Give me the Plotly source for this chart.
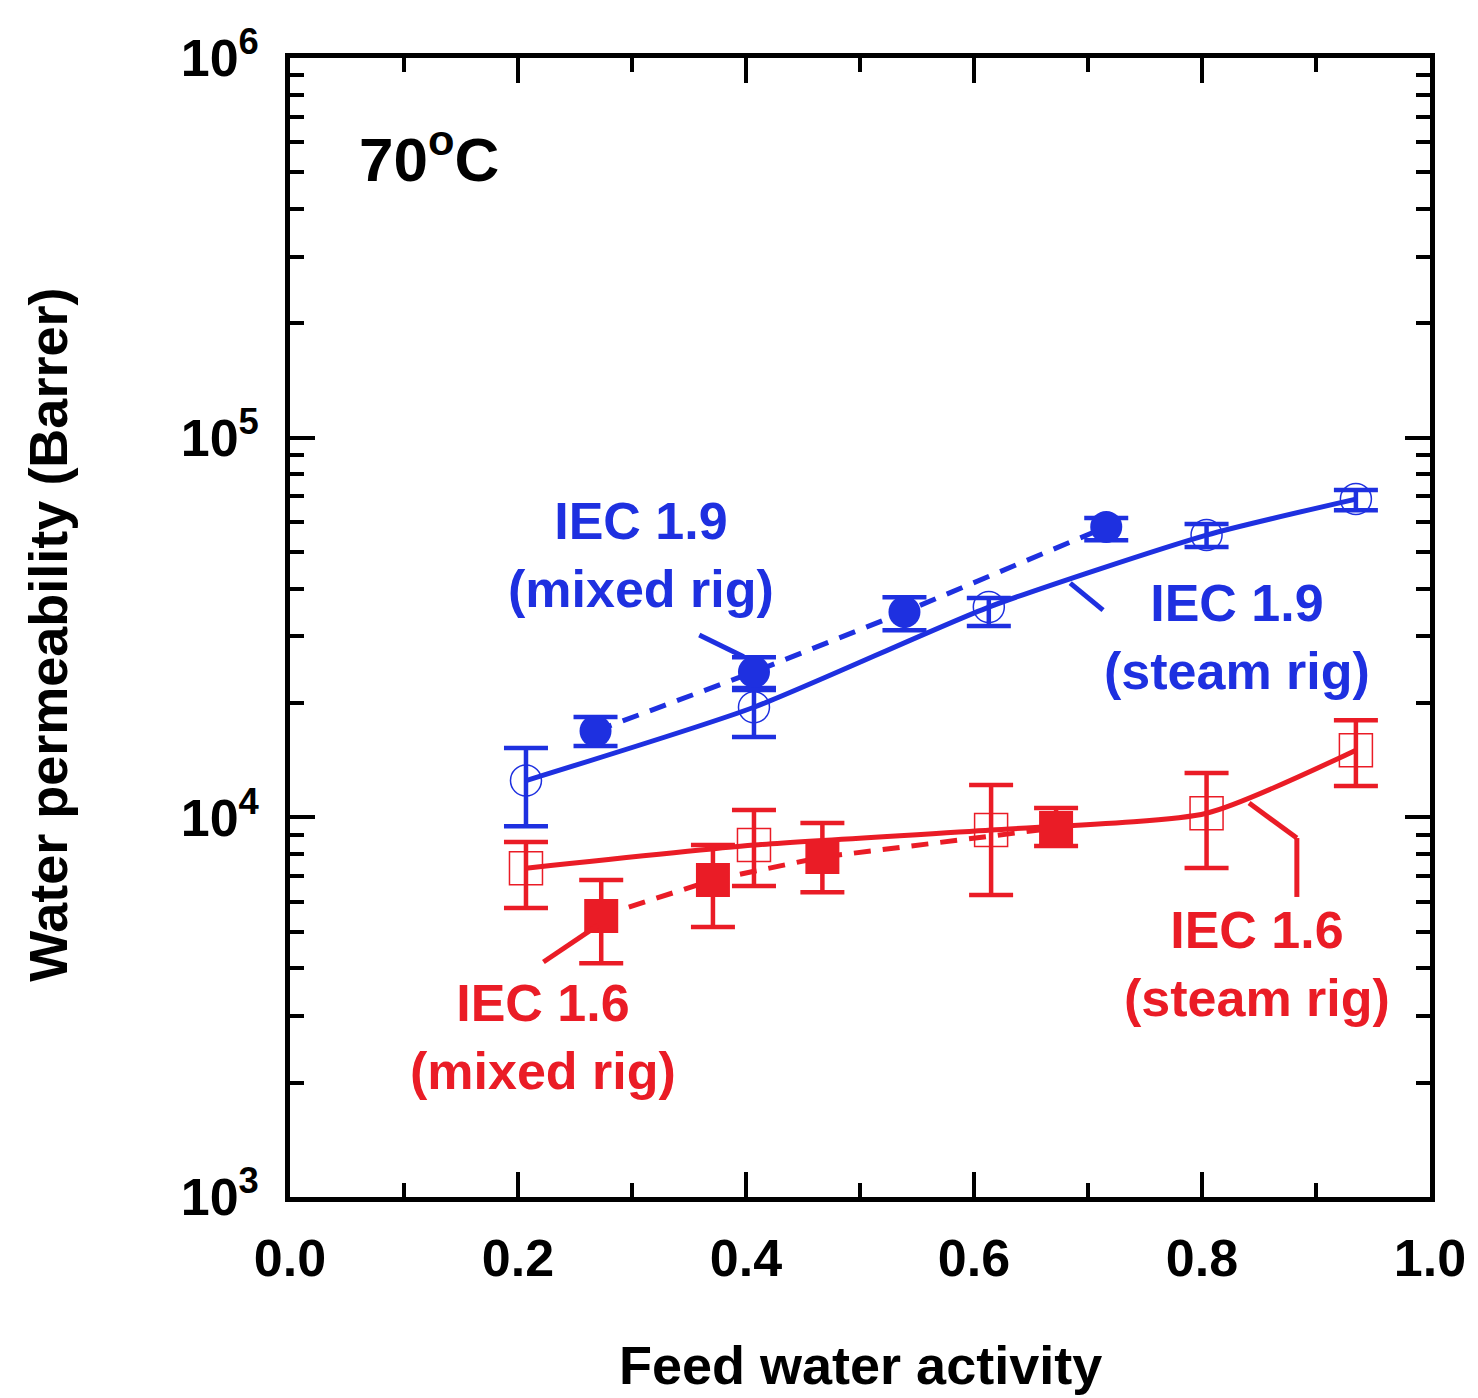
import plotly.graph_objects as go

# Water permeability vs feed water activity at 70 C
# IEC 1.9 membrane, steam rig (open circles, solid fit line)
a_19_steam = [0.207, 0.407, 0.613, 0.804, 0.935]
p_19_steam = [12500, 19500, 35800, 55400, 68900]
p_19_steam_hi = [15220, 21630, 37800, 59220, 72800]
p_19_steam_lo = [9480, 16270, 31900, 51500, 64400]

# IEC 1.9 membrane, mixed rig (filled circles, dashed line)
a_19_mixed = [0.268, 0.407, 0.539, 0.716]
p_19_mixed = [16870, 24150, 34750, 58200]
p_19_mixed_hi = [18370, 26420, 38000, 61400]
p_19_mixed_lo = [15420, 21900, 31100, 53700]

# IEC 1.6 membrane, steam rig (open squares, solid fit line)
a_16_steam = [0.207, 0.407, 0.615, 0.804, 0.935]
p_16_steam = [7345, 8450, 9260, 10250, 15030]
p_16_steam_hi = [8610, 10450, 12160, 13080, 18030]
p_16_steam_lo = [5770, 6590, 6240, 7355, 12090]

# IEC 1.6 membrane, mixed rig (filled squares, dashed line)
a_16_mixed = [0.273, 0.371, 0.467, 0.672]
p_16_mixed = [5495, 6840, 7860, 9375]
p_16_mixed_hi = [6840, 8450, 9660, 10580]
p_16_mixed_lo = [4130, 5140, 6350, 8400]

x_ticks = [0.0, 0.2, 0.4, 0.6, 0.8, 1.0]
x_ticklabels = ["0.0", "0.2", "0.4", "0.6", "0.8", "1.0"]
y_ticks = [1e3, 1e4, 1e5, 1e6]
y_ticklabels = ["10<sup>3</sup>", "10<sup>4</sup>", "10<sup>5</sup>", "10<sup>6</sup>"]

BLUE = "#1e30e0"
RED = "#ea1c26"
FONT = "Liberation Sans, Arial, Helvetica, sans-serif"
LW = 5


def err(vals, hi, lo):
    plus = [h - v for h, v in zip(hi, vals)]
    minus = [v - l for v, l in zip(vals, lo)]
    return dict(type="data", symmetric=False, array=plus, arrayminus=minus,
                thickness=4.5, width=22)


fig = go.Figure()

# fit / guide lines
fig.add_trace(go.Scatter(x=a_19_steam, y=p_19_steam, mode="lines",
                         line=dict(color=BLUE, width=LW, shape="spline", smoothing=0.6),
                         showlegend=False, hoverinfo="skip"))
fig.add_trace(go.Scatter(x=a_19_mixed, y=p_19_mixed, mode="lines",
                         line=dict(color=BLUE, width=LW, dash="17px,12px"),
                         showlegend=False, hoverinfo="skip"))
fig.add_trace(go.Scatter(x=a_16_steam, y=p_16_steam, mode="lines",
                         line=dict(color=RED, width=LW, shape="spline", smoothing=0.6),
                         showlegend=False, hoverinfo="skip"))
fig.add_trace(go.Scatter(x=a_16_mixed, y=p_16_mixed, mode="lines",
                         line=dict(color=RED, width=LW, dash="17px,12px"),
                         showlegend=False, hoverinfo="skip"))

# data points with error bars
fig.add_trace(go.Scatter(
    x=a_19_steam, y=p_19_steam, mode="markers", name="IEC 1.9 (steam rig)",
    marker=dict(symbol="circle-open", size=31, color=BLUE, line=dict(width=1.5)),
    error_y=dict(color=BLUE, **err(p_19_steam, p_19_steam_hi, p_19_steam_lo))))
fig.add_trace(go.Scatter(
    x=a_19_mixed, y=p_19_mixed, mode="markers", name="IEC 1.9 (mixed rig)",
    marker=dict(symbol="circle", size=32, color=BLUE),
    error_y=dict(color=BLUE, **err(p_19_mixed, p_19_mixed_hi, p_19_mixed_lo))))
fig.add_trace(go.Scatter(
    x=a_16_steam, y=p_16_steam, mode="markers", name="IEC 1.6 (steam rig)",
    marker=dict(symbol="square-open", size=33, color=RED, line=dict(width=1.5)),
    error_y=dict(color=RED, **err(p_16_steam, p_16_steam_hi, p_16_steam_lo))))
fig.add_trace(go.Scatter(
    x=a_16_mixed, y=p_16_mixed, mode="markers", name="IEC 1.6 (mixed rig)",
    marker=dict(symbol="square", size=34, color=RED),
    error_y=dict(color=RED, **err(p_16_mixed, p_16_mixed_hi, p_16_mixed_lo))))

# leader lines from labels to curves
leaders = [
    (BLUE, [(0.359, 30200), (0.398, 26500)]),
    (BLUE, [(0.6844, 41400), (0.7132, 35150)]),
    (RED, [(0.2223, 4160), (0.2703, 5200)]),
    (RED, [(0.8413, 10910), (0.8832, 8820)]),
    (RED, [(0.8832, 8820), (0.8832, 6170)]),
]
for col, ((x0, y0), (x1, y1)) in leaders:
    fig.add_shape(type="line", xref="x", yref="y", x0=x0, y0=y0, x1=x1, y1=y1,
                  line=dict(color=col, width=LW))

labels = [
    ("IEC 1.9<br>(mixed rig)", 0.3078, 4.691, BLUE),
    ("IEC 1.9<br>(steam rig)", 0.8309, 4.475, BLUE),
    ("IEC 1.6<br>(mixed rig)", 0.2223, 3.421, RED),
    ("IEC 1.6<br>(steam rig)", 0.8483, 3.614, RED),
]
for txt, lx, ly, col in labels:
    fig.add_annotation(x=lx, y=ly, xref="x", yref="y", text=txt, showarrow=False,
                       font=dict(family=FONT, size=52, color=col, weight="bold"),
                       xanchor="center", yanchor="middle", align="center")

fig.add_annotation(x=0.122, y=5.745, xref="x", yref="y", text="70<sup>o</sup>C",
                   showarrow=False, xanchor="center", yanchor="middle",
                   font=dict(family=FONT, size=62, color="black", weight="bold"))

# axis titles
fig.add_annotation(x=0.5, y=-0.1475, xref="paper", yref="paper",
                   text="Feed water activity", showarrow=False,
                   xanchor="center", yanchor="middle",
                   font=dict(family=FONT, size=54, color="black", weight="bold"))
fig.add_annotation(x=-0.2119, y=0.494, xref="paper", yref="paper",
                   text="Water permeability (Barrer)", showarrow=False, textangle=-90,
                   xanchor="center", yanchor="middle",
                   font=dict(family=FONT, size=54, color="black", weight="bold"))

minor_y = [m * 10 ** e for e in (3, 4, 5) for m in range(2, 10)]

fig.update_layout(
    width=1478, height=1398,
    margin=dict(l=290, r=41, t=58, b=201),
    paper_bgcolor="white", plot_bgcolor="white",
    showlegend=False,
    font=dict(family=FONT, color="black"),
    xaxis=dict(range=[0, 1], tickmode="array", tickvals=x_ticks, ticktext=x_ticklabels,
               ticks="inside", ticklen=25, tickwidth=4, tickcolor="black",
               showline=True, linewidth=4.5, linecolor="black", mirror="allticks",
               showgrid=False, zeroline=False, ticklabelstandoff=12,
               tickfont=dict(family=FONT, size=52, color="black", weight="bold"),
               minor=dict(tickmode="array", tickvals=[0.1, 0.3, 0.5, 0.7, 0.9],
                          ticks="inside", ticklen=14, tickwidth=4, tickcolor="black",
                          showgrid=False)),
    yaxis=dict(type="log", range=[3, 6], tickmode="array", tickvals=y_ticks,
               ticktext=y_ticklabels,
               ticks="inside", ticklen=25, tickwidth=4, tickcolor="black",
               showline=True, linewidth=4.5, linecolor="black", mirror="allticks",
               showgrid=False, zeroline=False, ticklabelstandoff=16,
               tickfont=dict(family=FONT, size=52, color="black", weight="bold"),
               minor=dict(tickmode="array", tickvals=minor_y,
                          ticks="inside", ticklen=14, tickwidth=4, tickcolor="black",
                          showgrid=False)),
)

fig.write_html("out.html")
